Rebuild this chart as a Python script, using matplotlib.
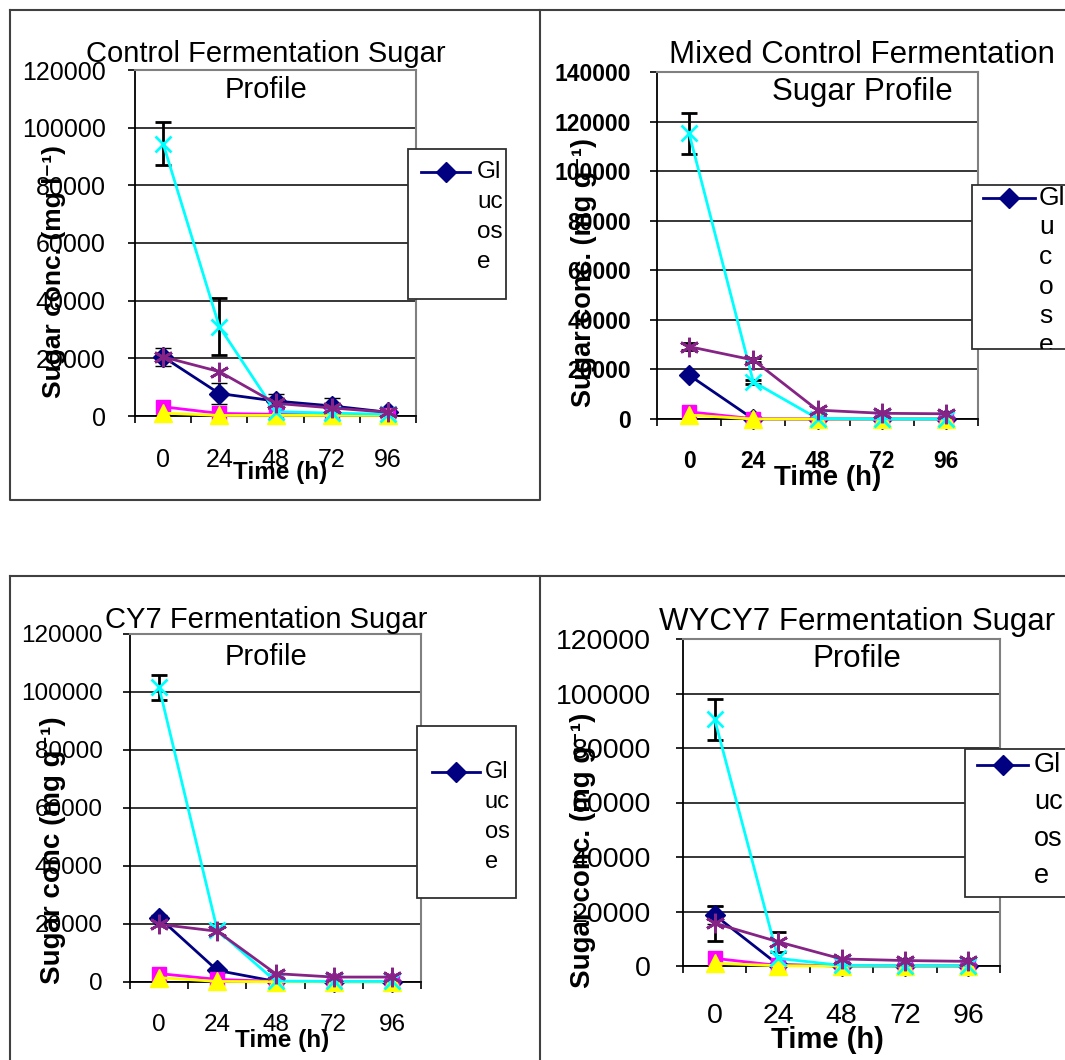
import numpy as np
import matplotlib
matplotlib.use("Agg")
import matplotlib.pyplot as plt
from matplotlib.lines import Line2D
from matplotlib.patches import Rectangle
from matplotlib.ticker import StrMethodFormatter

plt.rcParams["font.family"] = ["Liberation Sans", "DejaVu Sans"]

time_labels = ["0", "24", "48", "72", "96"]
legend_label = "Glucose"

# Control fermentation (mg l-1)
control_glucose = [20500, 7800, 5200, 3500, 1300]
control_glucose_err = [3000, 3800, 2600, 2900, np.nan]
control_fructose = [3200, 900, 600, 500, 500]
control_sucrose = [1000, 200, 200, 200, 200]
control_maltose = [94500, 31000, 1500, 1000, 600]
control_maltose_err = [7500, 9800, np.nan, np.nan, np.nan]
control_maltotriose = [20500, 15400, 4400, 2800, 1300]

# Mixed control fermentation
mixed_glucose = [17700, 0, 0, 0, 0]
mixed_fructose = [2900, 100, 0, 0, 0]
mixed_sucrose = [1600, 0, 0, 0, 0]
mixed_maltose = [115200, 15000, 200, 0, 0]
mixed_maltose_err = [8200, 900, np.nan, np.nan, np.nan]
mixed_maltotriose = [29200, 23800, 3600, 2300, 2100]
mixed_maltotriose_err = [1500, 800, np.nan, np.nan, np.nan]

# CY7 fermentation
cy7_glucose = [22200, 4000, 200, 100, 100]
cy7_glucose_err = [800, np.nan, np.nan, np.nan, np.nan]
cy7_fructose = [2900, 900, 200, 200, 200]
cy7_sucrose = [1500, 200, 100, 100, 100]
cy7_maltose = [101600, 17900, 300, 200, 200]
cy7_maltose_err = [4300, np.nan, np.nan, np.nan, np.nan]
cy7_maltotriose = [19900, 17500, 2900, 1700, 1700]

# WYCY7 fermentation
wycy7_glucose = [18700, 500, 0, 0, 0]
wycy7_glucose_err = [3300, np.nan, np.nan, np.nan, np.nan]
wycy7_fructose = [2800, 200, 100, 100, 100]
wycy7_sucrose = [1000, 100, 0, 0, 0]
wycy7_maltose = [90500, 2800, 200, 100, 100]
wycy7_maltose_err = [7400, np.nan, np.nan, np.nan, np.nan]
wycy7_maltotriose = [15700, 8900, 2600, 2000, 1700]
wycy7_maltotriose_err = [6400, 3700, np.nan, np.nan, np.nan]

styles = [
    dict(color="#000080", marker="D", ms=10, mew=1),
    dict(color="#FF00FF", marker="s", ms=10.5, mew=1),
    dict(color="#FFFF00", marker="^", ms=12.5, mew=1),
    dict(color="#00FFFF", marker="x", ms=12, mew=2),
    dict(color="#862486", marker=(6, 2, 0), ms=14, mew=2),
]

W, H = 1065, 1060

panels = [
    dict(title=["Control Fermentation Sugar", "Profile"], title_x=266, title_y=[62, 98], title_fs=21,
         ylabel="Sugar conc. (mg l\u207b\u00b9)", ylabel_pos=(66, 272), ylabel_fs=19,
         xlabel_pos=(280, 472), xlabel_fs=17.5,
         box=(135, 70, 416, 416), ymax=120000, tick_fs=18, tick_bold=False, ypad=16, xpad=23,
         series=[control_glucose, control_fructose, control_sucrose, control_maltose, control_maltotriose],
         errors=[control_glucose_err, None, None, control_maltose_err, None],
         legend_box=(408, 149, 506, 299), legend_line=(421, 470, 172), legend_text_x=477,
         legend_lines=["Gl", "uc", "os", "e"], legend_step=30, legend_fs=17.5),
    dict(title=["Mixed Control Fermentation", "Sugar Profile"], title_x=862, title_y=[63, 100], title_fs=22.5,
         ylabel="Sugar conc. (mg g\u207b\u00b9)", ylabel_pos=(597, 272), ylabel_fs=19.5,
         xlabel_pos=(828, 478), xlabel_fs=20,
         box=(657, 72, 978, 419), ymax=140000, tick_fs=16.5, tick_bold=True, ypad=13.5, xpad=22,
         series=[mixed_glucose, mixed_fructose, mixed_sucrose, mixed_maltose, mixed_maltotriose],
         errors=[None, None, None, mixed_maltose_err, mixed_maltotriose_err],
         legend_box=(972, 185, 1075, 349), legend_line=(983, 1035, 198), legend_text_x=1039,
         legend_lines=["Gl", "u", "c", "o", "s", "e"], legend_step=29.5, legend_fs=19),
    dict(title=["CY7 Fermentation Sugar", "Profile"], title_x=266, title_y=[628, 665], title_fs=21,
         ylabel="Sugar conc (mg g\u207b\u00b9)", ylabel_pos=(66, 850), ylabel_fs=20,
         xlabel_pos=(282, 1041), xlabel_fs=17.5,
         box=(130, 634, 421, 982), ymax=120000, tick_fs=17.5, tick_bold=False, ypad=14.5, xpad=23,
         series=[cy7_glucose, cy7_fructose, cy7_sucrose, cy7_maltose, cy7_maltotriose],
         errors=[cy7_glucose_err, None, None, cy7_maltose_err, None],
         legend_box=(417, 726, 516, 898), legend_line=(432, 480, 772), legend_text_x=485,
         legend_lines=["Gl", "uc", "os", "e"], legend_step=30, legend_fs=17),
    dict(title=["WYCY7 Fermentation Sugar", "Profile"], title_x=857, title_y=[630, 667], title_fs=22.5,
         ylabel="Sugar conc. (mg g\u207b\u00b9)", ylabel_pos=(596, 850), ylabel_fs=20,
         xlabel_pos=(827, 1040), xlabel_fs=21,
         box=(683, 639, 1000, 966), ymax=120000, tick_fs=20.5, tick_bold=False, ypad=18, xpad=26.5,
         series=[wycy7_glucose, wycy7_fructose, wycy7_sucrose, wycy7_maltose, wycy7_maltotriose],
         errors=[wycy7_glucose_err, None, None, wycy7_maltose_err, wycy7_maltotriose_err],
         legend_box=(965, 749, 1075, 897), legend_line=(977, 1028, 765), legend_text_x=1034,
         legend_lines=["Gl", "uc", "os", "e"], legend_step=37, legend_fs=19.5),
]


def fx(x):
    return x / W


def fy(y):
    return 1 - y / H


fig = plt.figure(figsize=(W / 100, H / 100), dpi=100)

# panel frames
frame = dict(color="#404040", lw=1.5, transform=fig.transFigure)
for xs, ys in [([10, 540, 540, 10, 10], [10, 10, 500, 500, 10]),
               ([540, 1070], [10, 10]),
               ([10, 10], [576, 1070]), ([10, 1070], [576, 576]),
               ([540, 540], [576, 1070])]:
    fig.add_artist(Line2D([fx(v) for v in xs], [fy(v) for v in ys], **frame))

for p in panels:
    l, t, r, b = p["box"]
    ax = fig.add_axes([fx(l), fy(b), (r - l) / W, (b - t) / H])
    x = np.arange(len(time_labels))
    for vals, errs, st in zip(p["series"], p["errors"], styles):
        ax.errorbar(x, vals, yerr=errs, color=st["color"], marker=st["marker"],
                    ms=st["ms"], mew=st["mew"], mec=st["color"], mfc=st["color"],
                    lw=2, ecolor="black", elinewidth=2, capsize=6, capthick=2,
                    clip_on=False, zorder=3)
    ax.set_xlim(-0.5, len(time_labels) - 0.5)
    ax.set_ylim(0, p["ymax"])
    ax.set_yticks(np.arange(0, p["ymax"] + 1, 20000))
    ax.yaxis.set_major_formatter(StrMethodFormatter("{x:.0f}"))
    ax.yaxis.grid(True, color="black", lw=1.1)
    ax.set_axisbelow(True)
    ax.set_xticks(x)
    ax.set_xticklabels(time_labels)
    ax.set_xticks(np.arange(-0.5, len(time_labels)), minor=True)
    weight = "bold" if p["tick_bold"] else "normal"
    ax.tick_params(axis="x", which="major", length=0, pad=p["xpad"], labelsize=p["tick_fs"])
    ax.tick_params(axis="x", which="minor", length=5, width=1.2, direction="out")
    ax.tick_params(axis="y", which="major", length=5, width=1.2, direction="out",
                   pad=p["ypad"], labelsize=p["tick_fs"])
    for lab in ax.get_xticklabels() + ax.get_yticklabels():
        lab.set_fontweight(weight)
    for s in ["top", "right"]:
        ax.spines[s].set_color("#808080")
        ax.spines[s].set_linewidth(1.5)
    for s in ["left", "bottom"]:
        ax.spines[s].set_color("black")
        ax.spines[s].set_linewidth(1.3)

    ax.set_ylabel(p["ylabel"], fontsize=p["ylabel_fs"], fontweight="bold")
    lx, ly = p["ylabel_pos"]
    ax.yaxis.set_label_coords((lx - l) / (r - l), (b - ly) / (b - t))
    ax.set_xlabel("Time (h)", fontsize=p["xlabel_fs"], fontweight="bold", va="center")
    tx, ty = p["xlabel_pos"]
    ax.xaxis.set_label_coords((tx - l) / (r - l), (b - ty) / (b - t))

    for line, yb in zip(p["title"], p["title_y"]):
        fig.text(fx(p["title_x"]), fy(yb), line, ha="center", va="baseline",
                 fontsize=p["title_fs"], zorder=4)

    # legend box (only the first series entry is visible in the original)
    bl, bt, br, bb = p["legend_box"]
    rect = Rectangle((fx(bl), fy(bb)), (br - bl) / W, (bb - bt) / H,
                     transform=fig.transFigure, facecolor="white",
                     edgecolor="#303030", lw=1.3, zorder=5)
    fig.add_artist(rect)
    x1, x2, yl = p["legend_line"]
    st = styles[0]
    fig.add_artist(Line2D([fx(x1), fx((x1 + x2) / 2), fx(x2)], [fy(yl)] * 3,
                          transform=fig.transFigure, color=st["color"], lw=2,
                          marker=st["marker"], ms=st["ms"], markevery=[1], zorder=6))
    for i, chunk in enumerate(p["legend_lines"]):
        txt = fig.text(fx(p["legend_text_x"]), fy(yl + i * p["legend_step"]), chunk,
                       ha="left", va="center", fontsize=p["legend_fs"], zorder=6)
        txt.set_clip_path(rect)

fig.savefig("out.png", dpi=100)
